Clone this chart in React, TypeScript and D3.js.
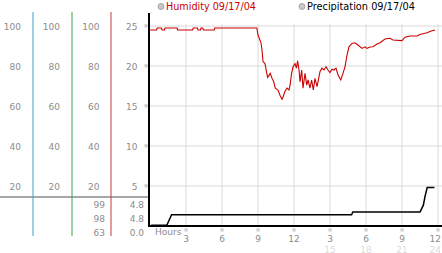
import React from "react";
import * as d3 from "d3";

const humidity: [number, number][] = [
  [0, 98], [0.55, 98], [0.6, 99], [0.95, 99], [1.0, 98], [1.2, 98], [1.25, 99], [2.25, 99], [2.3, 98],
  [3.55, 98], [3.6, 99], [3.95, 99], [4.0, 98], [4.2, 98], [4.25, 99], [4.4, 99], [4.45, 98], [5.35, 98],
  [5.4, 99], [8.9, 99], [9.0, 95.5], [9.15, 93.1], [9.25, 91.6], [9.33, 88.1], [9.42, 82.2], [9.58, 81.2],
  [9.7, 77.3], [9.8, 74.3], [9.92, 75.3], [10.02, 76.3], [10.17, 73.8], [10.3, 72.3], [10.44, 68.9],
  [10.67, 68], [10.83, 65.4], [11.0, 63.4], [11.08, 64.4], [11.25, 67.4], [11.42, 68.9], [11.58, 68],
  [11.67, 70.4], [11.8, 76.3], [11.92, 79.6], [12.08, 81.2], [12.2, 78.9], [12.3, 82.6], [12.42, 78],
  [12.5, 72.1], [12.64, 78], [12.75, 68.9], [12.92, 76.3], [13.06, 70.4], [13.17, 73], [13.33, 68.9],
  [13.47, 73], [13.61, 68], [13.75, 73.8], [13.92, 69.7], [14.17, 77.3], [14.33, 78.9], [14.5, 78],
  [14.67, 79.6], [14.83, 78], [15.0, 76.7], [15.17, 78.4], [15.33, 78], [15.5, 78.9], [15.67, 75.5],
  [15.9, 73], [16.08, 76.3], [16.25, 79.6], [16.42, 85.5], [16.58, 89.6], [16.83, 91.3], [17.08, 91.6],
  [17.33, 90.5], [17.67, 88.8], [17.92, 89.6], [18.08, 88.8], [18.33, 89.5], [18.58, 89.6], [18.92, 91],
  [19.17, 91.6], [19.58, 93.5], [20.0, 93.9], [20.25, 93], [21.0, 92.7], [21.25, 94.4], [21.67, 95],
  [22.25, 95], [22.5, 95.8], [23.08, 96.6], [23.5, 97.6], [23.75, 98],
];

const precipitation: [number, number][] = [
  [0, 0], [0.15, 0.1], [1.4, 0.1], [1.8, 1.4], [16.8, 1.4], [16.9, 1.75], [22.5, 1.75], [22.78, 2.6],
  [22.92, 3.7], [23.1, 4.8], [23.7, 4.8],
];

const leftColumnLabels = [100, 80, 60, 40, 20];
const primaryTicks = [25, 20, 15, 10, 5];
const hourTicks = [3, 6, 9, 12, 15, 18, 21, 24];
const hourLabels = ["3", "6", "9", "12", "3", "6", "9", "12"];
const hourLabels2 = ["", "", "", "", "15", "18", "21", "24"];
const humiditySummary = ["99", "98", "63"];
const precipSummary = ["4.8", "4.8", "0.0"];

export default function App() {
  const W = 442, H = 253;
  const x = d3.scaleLinear().domain([0, 24]).range([150, 438]);
  const y = d3.scaleLinear().domain([0, 25]).range([226, 26]);
  const yH = d3.scaleLinear().domain([0, 100]).range([226, 26]);
  const humLine = d3.line<[number, number]>().x(d => x(d[0])).y(d => yH(d[1]));
  const preLine = d3.line<[number, number]>().x(d => x(d[0])).y(d => y(d[1]));
  const font = "'DejaVu Sans', Verdana, sans-serif";
  const gray = "#8c8c8c";
  const colRights = [21, 60, 99.5];
  const colLines = [
    { x: 33, c: "#3aa3c9" },
    { x: 72, c: "#34a846" },
    { x: 111, c: "#c83a3a" },
  ];
  const summaryY = [207.5, 221.5, 235.5];
  const last = hourTicks.length - 1;

  return (
    <svg width={W} height={H} style={{ position: "absolute", left: 0, top: 0, background: "#fff" }}
      fontFamily={font}>
      <rect x={0} y={0} width={W} height={H} fill="#fff" />
      {primaryTicks.map(t => (
        <line key={"h" + t} x1={150} x2={442} y1={y(t)} y2={y(t)} stroke="#dadada" strokeWidth={1} />
      ))}
      {hourTicks.map(t => (
        <line key={"v" + t} x1={x(t)} x2={x(t)} y1={24} y2={226} stroke="#dadada" strokeWidth={1} />
      ))}
      <line x1={0} x2={149} y1={197} y2={197} stroke="#a8a8a8" strokeWidth={2} />
      {colLines.map(c => (
        <line key={c.x} x1={c.x} x2={c.x} y1={12} y2={236} stroke={c.c} strokeWidth={1} />
      ))}
      {colRights.map((cx, i) =>
        leftColumnLabels.map(v => (
          <text key={i + "-" + v} x={cx} y={yH(v) + 3.5} textAnchor="end" fontSize={9} fill={gray}>{v}</text>
        ))
      )}
      {primaryTicks.map(t => (
        <text key={"p" + t} x={137.5} y={y(t) + 3.5} textAnchor="end" fontSize={9} fill={gray}>{t}</text>
      ))}
      {primaryTicks.map(t => (
        <text key={"m" + t} x={146} y={y(t) + 2} textAnchor="middle" fontSize={6} fill="#aaa">※</text>
      ))}
      {humiditySummary.map((s, i) => (
        <text key={"hs" + i} x={105} y={summaryY[i]} textAnchor="end" fontSize={9} fill={gray}>{s}</text>
      ))}
      {precipSummary.map((s, i) => (
        <text key={"ps" + i} x={144} y={summaryY[i]} textAnchor="end" fontSize={9} fill={gray}>{s}</text>
      ))}
      <line x1={149} x2={149} y1={13} y2={227} stroke="#000" strokeWidth={2} />
      <line x1={148} x2={442} y1={226} y2={226} stroke="#000" strokeWidth={2} />
      <text x={155} y={235} fontSize={9} fill={gray}>Hours</text>
      {hourTicks.map((t, i) => {
        const isLast = i === last;
        const tx = isLast ? 441 : x(t);
        const anchor = isLast ? "end" : "middle";
        return (
          <g key={"ht" + t}>
            <text x={x(t)} y={232} textAnchor="middle" fontSize={6} fill="#aaa">※</text>
            <text x={tx} y={241.5} textAnchor={anchor} fontSize={9} fill={gray}>{hourLabels[i]}</text>
            <text x={tx} y={252.5} textAnchor={anchor} fontSize={9} fill="#dcdcdc">{hourLabels2[i]}</text>
          </g>
        );
      })}
      <path d={preLine(precipitation) || ""} fill="none" stroke="#000" strokeWidth={1.5} />
      <path d={humLine(humidity) || ""} fill="none" stroke="#cc0000" strokeWidth={1.1} />
      <circle cx={161} cy={6.5} r={3} fill="#c8c8c8" stroke="#999" strokeWidth={0.8} />
      <text x={166} y={10} fontSize={10} fill="#cc0000" textLength={90} lengthAdjust="spacingAndGlyphs">Humidity 09/17/04</text>
      <circle cx={302} cy={6.5} r={3} fill="#c8c8c8" stroke="#999" strokeWidth={0.8} />
      <text x={307} y={10} fontSize={10} fill="#000" textLength={108} lengthAdjust="spacingAndGlyphs">Precipitation 09/17/04</text>
    </svg>
  );
}
